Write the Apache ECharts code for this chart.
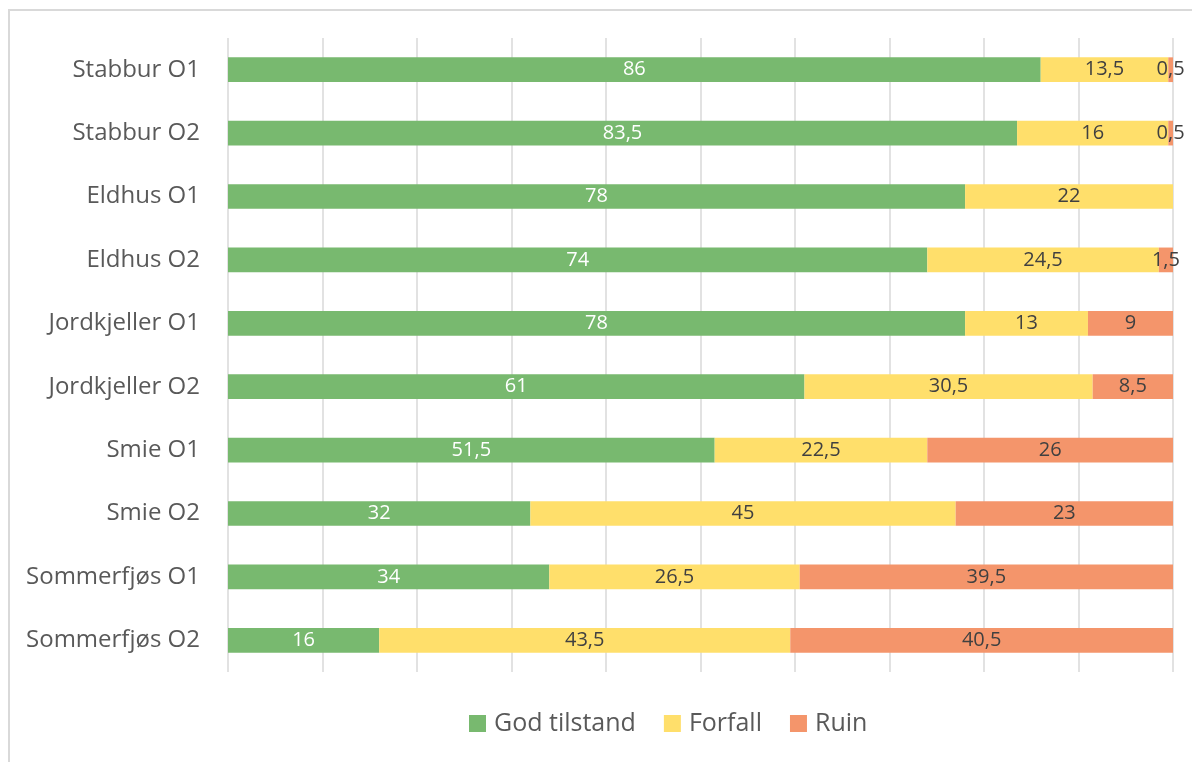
<!DOCTYPE html>
<html>
<head>
<meta charset="utf-8">
<script src="https://cdn.jsdelivr.net/npm/echarts@6/dist/echarts.min.js"></script>
<style>
  html, body { margin: 0; padding: 0; background: #fff; }
  #frame {
    position: absolute; left: 8px; top: 9px; width: 1200px; height: 800px;
    border: 2px solid #d9d9d9; box-sizing: border-box;
  }
  #chart_main { position: absolute; left: 0; top: 0; width: 1192px; height: 762px; }
</style>
</head>
<body>
<div id="frame"></div>
<div id="chart_main"></div>
<script>
const categories = ["Stabbur O1", "Stabbur O2", "Eldhus O1", "Eldhus O2", "Jordkjeller O1",
  "Jordkjeller O2", "Smie O1", "Smie O2", "Sommerfjøs O1", "Sommerfjøs O2"];
const godTilstand = [86, 83.5, 78, 74, 78, 61, 51.5, 32, 34, 16];
const forfall = [13.5, 16, 22, 24.5, 13, 30.5, 22.5, 45, 26.5, 43.5];
const ruin = [0.5, 0.5, 0, 1.5, 9, 8.5, 26, 23, 39.5, 40.5];
const xTicks = [0, 100, 10]; // min, max, interval

// desimalkomma, og ingen etikett for 0
const fmt = (p) => (p.value ? String(p.value).replace(".", ",") : "");
const font = "'Open Sans', 'Noto Sans', sans-serif";

const makeSeries = (name, data, color, labelColor) => ({
  name: name,
  type: "bar",
  stack: "total",
  barWidth: "39%",
  itemStyle: { color: color },
  label: {
    show: true,
    position: "inside",
    color: labelColor,
    fontSize: 20,
    fontFamily: font,
    formatter: fmt,
  },
  data: data,
});

let myChart = echarts.init(document.getElementById("chart_main"));
myChart.setOption({
  animation: false,
  textStyle: { fontFamily: font },
  grid: { left: 228, right: 19, top: 38, bottom: 90 },
  legend: {
    bottom: 21,
    left: 464,
    icon: "rect",
    itemWidth: 17,
    itemHeight: 17,
    itemGap: 28,
    textStyle: { color: "#595959", fontSize: 25, fontFamily: font, padding: [0, 0, 0, 3] },
  },
  xAxis: {
    type: "value",
    min: xTicks[0],
    max: xTicks[1],
    interval: xTicks[2],
    axisLabel: { show: false },
    axisLine: { show: false },
    axisTick: { show: false },
    splitLine: { lineStyle: { color: "#d9d9d9", width: 1.5 } },
  },
  yAxis: {
    type: "category",
    inverse: true,
    data: categories,
    axisLine: { show: false },
    axisTick: { show: false },
    axisLabel: { color: "#595959", fontSize: 24, margin: 28, fontFamily: font },
  },
  series: [
    makeSeries("God tilstand", godTilstand, "#78b96f", "#ffffff"),
    makeSeries("Forfall", forfall, "#ffdf6b", "#404040"),
    makeSeries("Ruin", ruin, "#f4956b", "#404040"),
  ],
});

window.addEventListener("resize", () => {
  myChart.resize();
});
</script>
</body>
</html>
